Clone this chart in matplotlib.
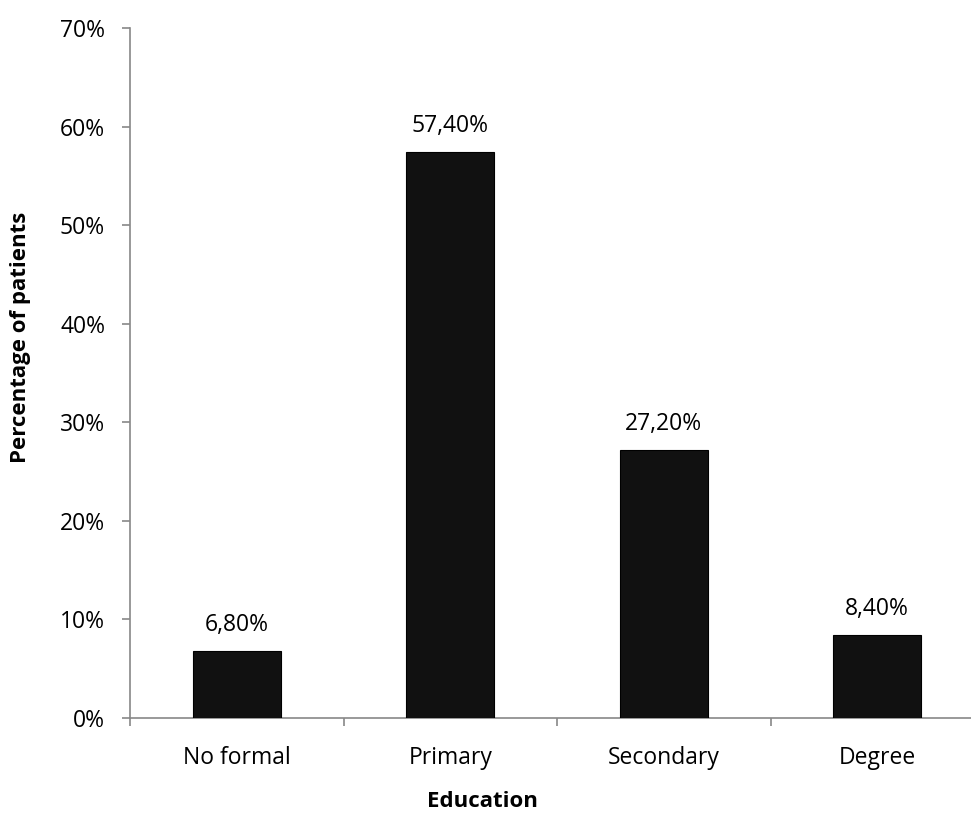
import matplotlib
matplotlib.use("Agg")
import matplotlib.pyplot as plt
from matplotlib.ticker import MultipleLocator, FuncFormatter

categories = ["No formal", "Primary", "Secondary", "Degree"]
values = [6.8, 57.4, 27.2, 8.4]
value_labels = ["6,80%", "57,40%", "27,20%", "8,40%"]

plt.rcParams["font.family"] = ["Open Sans", "DejaVu Sans"]

fig = plt.figure(figsize=(9.71, 8.35), dpi=100)
W, H = 971, 835
left, right, bottom, top = 130, 984, 718, 28
ax = fig.add_axes([left / W, 1 - bottom / H, (right - left) / W, (bottom - top) / H])

x = list(range(len(categories)))
ax.bar(x, values, width=0.41, color="#111111", edgecolor="#000000", linewidth=0.8, zorder=3)

for xi, v, lab in zip(x, values, value_labels):
    ax.annotate(lab, (xi, v), xytext=(0, 10), textcoords="offset points",
                ha="center", va="bottom", fontsize=16.5, color="#000000")

ax.set_xlim(-0.5, len(categories) - 0.5)
ax.set_ylim(0, 70)
ax.yaxis.set_major_locator(MultipleLocator(10))
ax.yaxis.set_major_formatter(FuncFormatter(lambda v, p: f"{v:.0f}%"))

ax.set_xticks(x)
ax.set_xticklabels(categories, fontsize=16.5)
ax.set_xticks([i - 0.5 for i in range(len(categories) + 1)], minor=True)
ax.tick_params(axis="x", which="major", length=0, pad=20)
ax.tick_params(axis="x", which="minor", length=6, width=1.2, color="#888888", direction="out")
ax.tick_params(axis="y", which="major", length=6, width=1.2, color="#888888", labelsize=16.5, pad=12)

for s in ["top", "right"]:
    ax.spines[s].set_visible(False)
for s in ["left", "bottom"]:
    ax.spines[s].set_color("#888888")
    ax.spines[s].set_linewidth(1.2)

ax.set_ylabel("Percentage of patients", fontsize=16, fontweight="bold", labelpad=21, y=0.551)
ax.set_xlabel("Education", fontsize=16, fontweight="bold", labelpad=15, x=0.413)

fig.savefig("out.png", dpi=100)
